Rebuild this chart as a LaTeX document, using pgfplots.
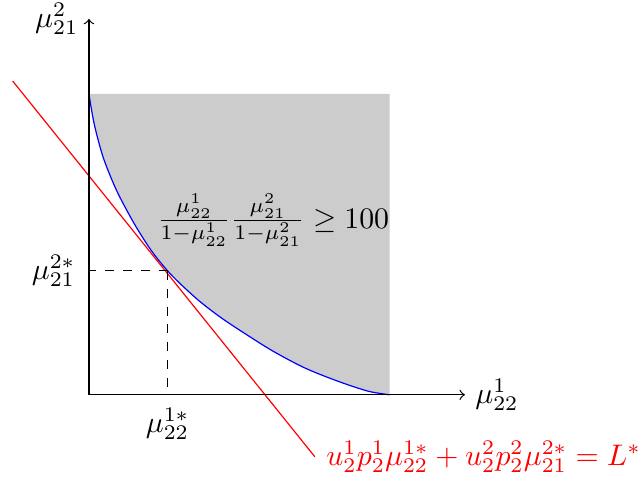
\documentclass[border=0pt]{standalone}
\usepackage{pgfplots}
\pgfplotsset{compat=1.18}
\usepgfplotslibrary{fillbetween}

\begin{document}
\begin{tikzpicture}
\begin{axis}[
    x=101pt, y=101pt,
    xmin=0, xmax=1.25, ymin=0, ymax=1.25,
    axis lines=left,
    axis line style={-to},
    xtick=\empty, ytick=\empty,
    set layers, axis on top,
    clip=false,
]
% upper edge of the shaded set
\addplot[draw=none, name path=top, forget plot] coordinates {(0,1) (1,1)};
% boundary of the set
\addplot[blue, smooth, name path=curve] coordinates {
    (0,1) (0.0176,0.900) (0.0475,0.789) (0.092,0.679) (0.1505,0.569)
    (0.207,0.480) (0.2615,0.412) (0.308,0.365) (0.369,0.310) (0.441,0.255)
    (0.524,0.200) (0.612,0.145) (0.718,0.089) (0.828,0.045) (0.928,0.012) (1,0)
};
\addplot[black!20] fill between[of=top and curve];

% tangent (iso-cost) line
\addplot[red] coordinates {(-0.2535,1.043) (0.751,-0.206)}
    node[pos=1, anchor=west, inner xsep=0pt, inner ysep=2.5pt, xshift=3.7pt, text=red]
    {$u_2^1 p_2^1 \mu_{22}^{1*} + u_2^2 p_2^2 \mu_{21}^{2*} = L^*$};

% guides to the optimum
\addplot[dashed] coordinates {(0.2615,0.412) (0,0.412)};
\addplot[dashed] coordinates {(0.2615,0.412) (0.2615,0)};

\node[anchor=east, inner ysep=1pt] at (axis cs:0,1.25) {$\mu^2_{21}$};
\node[anchor=west] at (axis cs:1.25,0) {$\mu^1_{22}$};
\node[anchor=east, xshift=-1pt] at (axis cs:0,0.412) {$\mu^{2*}_{21}$};
\node[anchor=north, yshift=-1pt] at (axis cs:0.2615,0) {$\mu^{1*}_{22}$};
\node[anchor=east, inner sep=0pt] at (axis cs:1,0.58)
    {$\frac{\mu^1_{22}}{1-\mu^1_{22}}\frac{\mu^2_{21}}{1-\mu^2_{21}} \geq 100$};

\path (axis cs:-0.2957,0);
\end{axis}
\end{tikzpicture}
\end{document}
